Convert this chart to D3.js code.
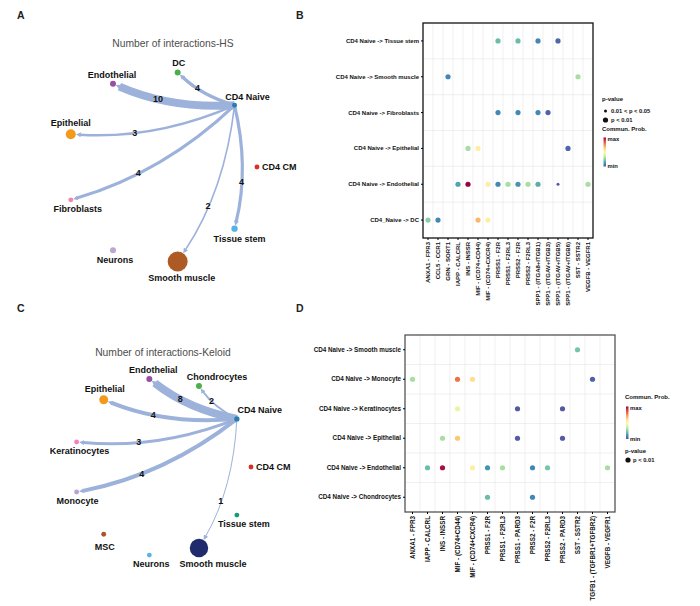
<!DOCTYPE html>
<html>
<head>
<meta charset="utf-8">
<script src="https://cdn.jsdelivr.net/npm/d3@7"></script>
<style>
body{margin:0;background:#fff;}
svg text{font-family:"Liberation Sans",Arial,sans-serif;}
</style>
</head>
<body>
<svg id="fig" width="700" height="606"></svg>
<script>
// ---- circle plots: number of L-R pairs sent by CD4 Naive ----
var hsGroups = ["CD4 CM","CD4 Naive","DC","Endothelial","Epithelial","Fibroblasts","Neurons","Smooth muscle","Tissue stem"];
var hsGroupSize = [6,6,9,9,25,6,9,100,10];
var hsTargets = ["DC","Endothelial","Epithelial","Fibroblasts","Smooth muscle","Tissue stem"];
var hsCounts = [4,10,3,4,2,4];

var kelGroups = ["CD4 CM","CD4 Naive","Chondrocytes","Endothelial","Epithelial","Keratinocytes","Monocyte","MSC","Neurons","Smooth muscle","Tissue stem"];
var kelGroupSize = [6,7,9,9,20,6,6,6,6,85,6];
var kelTargets = ["Chondrocytes","Endothelial","Epithelial","Keratinocytes","Monocyte","Smooth muscle"];
var kelCounts = [2,8,4,3,4,1];

// ---- bubble plots ----
var hsPairs = ["ANXA1 - FPR3","CCL5 - CCR1","GRN - SORT1","IAPP - CALCRL","INS - INSSR","MIF - (CD74+CD44)","MIF - (CD74+CXCR4)","PRSS1 - F2R","PRSS1 - F2RL3","PRSS2 - F2R","PRSS2 - F2RL3","SPP1 - (ITGA8+ITGB1)","SPP1 - (ITGAV+ITGB3)","SPP1 - (ITGAV+ITGB5)","SPP1 - (ITGAV+ITGB6)","SST - SSTR2","VEGFB - VEGFR1"];
var hsRows = ["CD4 Naive -> Tissue stem","CD4 Naive -> Smooth muscle","CD4 Naive -> Fibroblasts","CD4 Naive -> Epithelial","CD4 Naive -> Endothelial","CD4_Naive -> DC"];
// [row, pair, prob (0 = min .. 1 = max), p class: 1 = 0.01<p<0.05, 2 = p<0.01]
var hsDots = [
  [0,7,0.2,2],[0,9,0.2,2],[0,11,0.1,2],[0,13,0.04,2],
  [1,2,0.1,2],[1,15,0.3,2],
  [2,7,0.1,2],[2,9,0.1,2],[2,11,0.1,2],[2,12,0.03,2],
  [3,4,0.3,2],[3,5,0.55,2],[3,14,0.04,2],
  [4,3,0.15,2],[4,4,1,2],[4,6,0.55,2],[4,7,0.1,2],[4,8,0.3,2],[4,9,0.12,2],[4,10,0.3,2],[4,11,0.17,2],[4,13,0.02,1],[4,16,0.3,2],
  [5,0,0.25,2],[5,1,0.1,2],[5,5,0.68,2],[5,6,0.55,2]
];

var kelPairs = ["ANXA1 - FPR3","IAPP - CALCRL","INS - INSSR","MIF - (CD74+CD44)","MIF - (CD74+CXCR4)","PRSS1 - F2R","PRSS1 - F2RL3","PRSS1 - PARD3","PRSS2 - F2R","PRSS2 - F2RL3","PRSS2 - PARD3","SST - SSTR2","TGFB1 - (TGFBR1+TGFBR2)","VEGFB - VEGFR1"];
var kelRows = ["CD4 Naive -> Smooth muscle","CD4 Naive -> Monocyte","CD4 Naive -> Keratinocytes","CD4 Naive -> Epithelial","CD4 Naive -> Endothelial","CD4 Naive -> Chondrocytes"];
var kelDots = [
  [0,11,0.22,2],
  [1,0,0.3,2],[1,3,0.8,2],[1,4,0.6,2],[1,12,0.03,2],
  [2,3,0.42,2],[2,7,0.02,2],[2,10,0.02,2],
  [3,2,0.3,2],[3,3,0.65,2],[3,7,0.02,2],[3,10,0.02,2],
  [4,1,0.2,2],[4,2,0.98,2],[4,4,0.55,2],[4,5,0.12,2],[4,6,0.3,2],[4,8,0.1,2],[4,9,0.22,2],[4,13,0.3,2],
  [5,5,0.2,2],[5,8,0.1,2]
];

// ---- styles ----
var hsColors = ["#dc2f26","#2b7bb3","#4daf4a","#984ea3","#f39a1c","#ee86b6","#bba6d2","#ad5a24","#55b2e2"];
var kelColors = ["#d8321f","#2b7bb3","#4daf4a","#984ea3","#f39a1c","#f283bd","#b9a3d3","#a65628","#5ab4e5","#1f2b6d","#1b9a73"];
var edgeColor = "#9db2db";

// label side and nudge per group
var hsLabel = {"CD4 CM":["right",0,0],"CD4 Naive":["above",13,0],"DC":["above",1,0],"Endothelial":["above",-1,0],"Epithelial":["above",0,0],
  "Fibroblasts":["below",7,0],"Neurons":["below",2,0],"Smooth muscle":["below",4,0],"Tissue stem":["below",5,0]};
var kelLabel = {"CD4 CM":["right",0,0],"CD4 Naive":["above",23,0],"Chondrocytes":["above",18,0],"Endothelial":["above",4,0],"Epithelial":["above",1,0],
  "Keratinocytes":["below",3,0],"Monocyte":["below",1,0],"MSC":["below",1,3.5],"Neurons":["below",2,0],"Smooth muscle":["below",14,0],"Tissue stem":["below",7,0]};

var svg = d3.select("#fig");
var defs = svg.append("defs");
var probColor = function(p){ return d3.interpolateSpectral(1 - p); };

var grad = defs.append("linearGradient").attr("id","spec")
  .attr("x1",0).attr("y1",1).attr("x2",0).attr("y2",0);
grad.selectAll("stop").data(d3.range(0,1.001,0.1)).join("stop")
  .attr("offset",function(d){return d;})
  .attr("stop-color",function(d){return probColor(d);});

defs.append("marker").attr("id","arr")
  .attr("viewBox","0 -5 10 10").attr("refX",2).attr("refY",0)
  .attr("markerWidth",5).attr("markerHeight",5)
  .attr("markerUnits","userSpaceOnUse").attr("orient","auto")
  .append("path").attr("d","M0,-5L10,0L0,5Z").attr("fill",edgeColor);

svg.selectAll(".plab").data([["A",17,19],["B",296,19],["C",17,312],["D",296,312]]).join("text")
  .attr("x",function(d){return d[1];}).attr("y",function(d){return d[2];})
  .attr("font-size",10.5).attr("font-weight","bold").attr("fill","#222")
  .text(function(d){return d[0];});

function network(cfg){
  var g = svg.append("g");
  var n = cfg.groups.length;
  var rScale = d3.scaleSqrt().domain([0,100]).range([0,10]);
  var wScale = d3.scaleLinear().domain([0,d3.max(cfg.counts)]).range([0,8]);
  var nodes = cfg.groups.map(function(name,i){
    var a = -2*Math.PI*i/n;
    return {name:name, x:cfg.cx + cfg.r*Math.cos(a), y:cfg.cy + cfg.r*Math.sin(a),
            r:rScale(cfg.sizes[i]), color:cfg.colors[i]};
  });
  var byName = {};
  nodes.forEach(function(d){ byName[d.name] = d; });
  var S = byName["CD4 Naive"];

  var edges = cfg.targets.map(function(t,k){
    var T = byName[t], dx = T.x - S.x, dy = T.y - S.y;
    var c = {x:(S.x+T.x)/2 + 0.12*dy, y:(S.y+T.y)/2 - 0.12*dx};
    var ex = T.x - c.x, ey = T.y - c.y, el = Math.hypot(ex,ey);
    var end = {x:T.x - ex/el*(T.r+4), y:T.y - ey/el*(T.r+4)};
    var tt = 0.62, u = 1 - tt;
    return {d:"M"+S.x+","+S.y+"Q"+c.x+","+c.y+" "+end.x+","+end.y,
            w:wScale(cfg.counts[k]), count:cfg.counts[k],
            lx:u*u*S.x + 2*u*tt*c.x + tt*tt*T.x, ly:u*u*S.y + 2*u*tt*c.y + tt*tt*T.y};
  });

  g.append("text").attr("x",cfg.titleX).attr("y",cfg.titleY).attr("text-anchor","middle")
    .attr("font-size",10.3).attr("fill","#4d4d4d").text(cfg.title);

  g.selectAll(".edge").data(edges).join("path")
    .attr("d",function(d){return d.d;}).attr("fill","none")
    .attr("stroke",edgeColor).attr("stroke-width",function(d){return d.w;})
    .attr("marker-end","url(#arr)");

  g.selectAll(".node").data(nodes).join("circle")
    .attr("cx",function(d){return d.x;}).attr("cy",function(d){return d.y;})
    .attr("r",function(d){return d.r;}).attr("fill",function(d){return d.color;});

  g.selectAll(".nlab").data(nodes).join("text")
    .attr("font-size",9).attr("font-weight","bold").attr("fill","#111")
    .each(function(d){
      var p = cfg.labels[d.name], t = d3.select(this);
      if (p[0] === "right") {
        t.attr("x",d.x + d.r + 2.5).attr("y",d.y + 3.2).attr("text-anchor","start");
      } else {
        var off = (p[0] === "above" ? -1 : 1)*(d.r + 6.5) + p[2];
        t.attr("x",d.x + p[1]).attr("y",d.y + off + 3.2).attr("text-anchor","middle");
      }
    })
    .text(function(d){return d.name;});

  g.selectAll(".elab").data(edges).join("text")
    .attr("x",function(d){return d.lx;}).attr("y",function(d){return d.ly + 3.2;})
    .attr("text-anchor","middle").attr("font-size",9).attr("font-weight","bold").attr("fill","#111")
    .text(function(d){return d.count;});
}

function bubble(cfg){
  var g = svg.append("g");
  var x = d3.scaleBand().domain(d3.range(cfg.pairs.length)).range([cfg.x0,cfg.x1]);
  var y = d3.scaleBand().domain(d3.range(cfg.rows.length)).range([cfg.y0,cfg.y1]);

  g.selectAll(".vg").data(d3.range(1,cfg.pairs.length)).join("line")
    .attr("x1",function(i){return x(i);}).attr("x2",function(i){return x(i);})
    .attr("y1",cfg.y0).attr("y2",cfg.y1).attr("stroke","#e6e6e6").attr("stroke-width",0.6);
  g.selectAll(".hg").data(d3.range(1,cfg.rows.length)).join("line")
    .attr("y1",function(i){return y(i);}).attr("y2",function(i){return y(i);})
    .attr("x1",cfg.x0).attr("x2",cfg.x1).attr("stroke","#e6e6e6").attr("stroke-width",0.6);

  g.selectAll(".dot").data(cfg.dots).join("circle")
    .attr("cx",function(d){return x(d[1]) + x.bandwidth()/2;})
    .attr("cy",function(d){return y(d[0]) + y.bandwidth()/2;})
    .attr("r",function(d){return d[3] === 2 ? 2.6 : 1.5;})
    .attr("fill",function(d){return probColor(d[2]);});

  g.append("rect").attr("x",cfg.x0).attr("y",cfg.y0)
    .attr("width",cfg.x1 - cfg.x0).attr("height",cfg.y1 - cfg.y0)
    .attr("fill","none").attr("stroke",cfg.border).attr("stroke-width",1.3);

  var ya = g.append("g").attr("transform","translate("+cfg.x0+",0)")
    .call(d3.axisLeft(y).tickSize(2).tickPadding(2).tickFormat(function(i){return cfg.rows[i];}));
  ya.select(".domain").remove();
  ya.attr("font-family",null).attr("font-size",cfg.fs).attr("font-weight","bold");
  ya.selectAll("text").attr("fill","#111");

  var xa = g.append("g").attr("transform","translate(0,"+cfg.y1+")")
    .call(d3.axisBottom(x).tickSize(2).tickFormat(function(i){return cfg.pairs[i];}));
  xa.select(".domain").remove();
  xa.attr("font-family",null).attr("font-size",cfg.fs).attr("font-weight","bold");
  xa.selectAll("text").attr("fill","#111").attr("transform","rotate(-90)")
    .attr("text-anchor","end").attr("x",-4).attr("y",0).attr("dy","0.35em");
}

function colorbar(g, x, y0, y1){
  g.append("rect").attr("x",x).attr("y",y0).attr("width",2.5).attr("height",y1 - y0).attr("fill","url(#spec)");
  g.append("text").attr("x",x + 4).attr("y",y0 + 3).attr("font-size",5.8).attr("font-weight","bold").attr("fill","#111").text("max");
  g.append("text").attr("x",x + 4).attr("y",y1 + 1.5).attr("font-size",5.8).attr("font-weight","bold").attr("fill","#111").text("min");
}
function legText(g, x, y, s, fs){
  g.append("text").attr("x",x).attr("y",y).attr("font-size",fs).attr("font-weight","bold").attr("fill","#111").text(s);
}

network({groups:hsGroups, sizes:hsGroupSize, targets:hsTargets, counts:hsCounts, colors:hsColors,
  labels:hsLabel, cx:161, cy:167, r:96, title:"Number of interactions-HS", titleX:173, titleY:47});
network({groups:kelGroups, sizes:kelGroupSize, targets:kelTargets, counts:kelCounts, colors:kelColors,
  labels:kelLabel, cx:162, cy:467, r:89, title:"Number of interactions-Keloid", titleX:163, titleY:356});

bubble({pairs:hsPairs, rows:hsRows, dots:hsDots, x0:423, x1:593, y0:23, y1:238, fs:6, border:"#111"});
bubble({pairs:kelPairs, rows:kelRows, dots:kelDots, x0:405, x1:615, y0:335, y1:512, fs:6.3, border:"#555"});

// legend B
var lb = svg.append("g");
legText(lb, 602, 101, "p-value", 6);
lb.append("circle").attr("cx",605.5).attr("cy",111).attr("r",1.5).attr("fill","#111");
legText(lb, 611, 113, "0.01 < p < 0.05", 5.8);
lb.append("circle").attr("cx",605.5).attr("cy",120).attr("r",2.6).attr("fill","#111");
legText(lb, 611, 122, "p < 0.01", 5.8);
legText(lb, 602, 131, "Commun. Prob.", 6);
colorbar(lb, 603.5, 137.5, 166.5);

// legend D
var ld = svg.append("g");
legText(ld, 625, 399, "Commun. Prob.", 6);
colorbar(ld, 626, 406.5, 439);
legText(ld, 625, 453, "p-value", 6);
ld.append("circle").attr("cx",628).attr("cy",460).attr("r",2.6).attr("fill","#111");
legText(ld, 633, 462, "p < 0.01", 5.8);
</script>
</body>
</html>
